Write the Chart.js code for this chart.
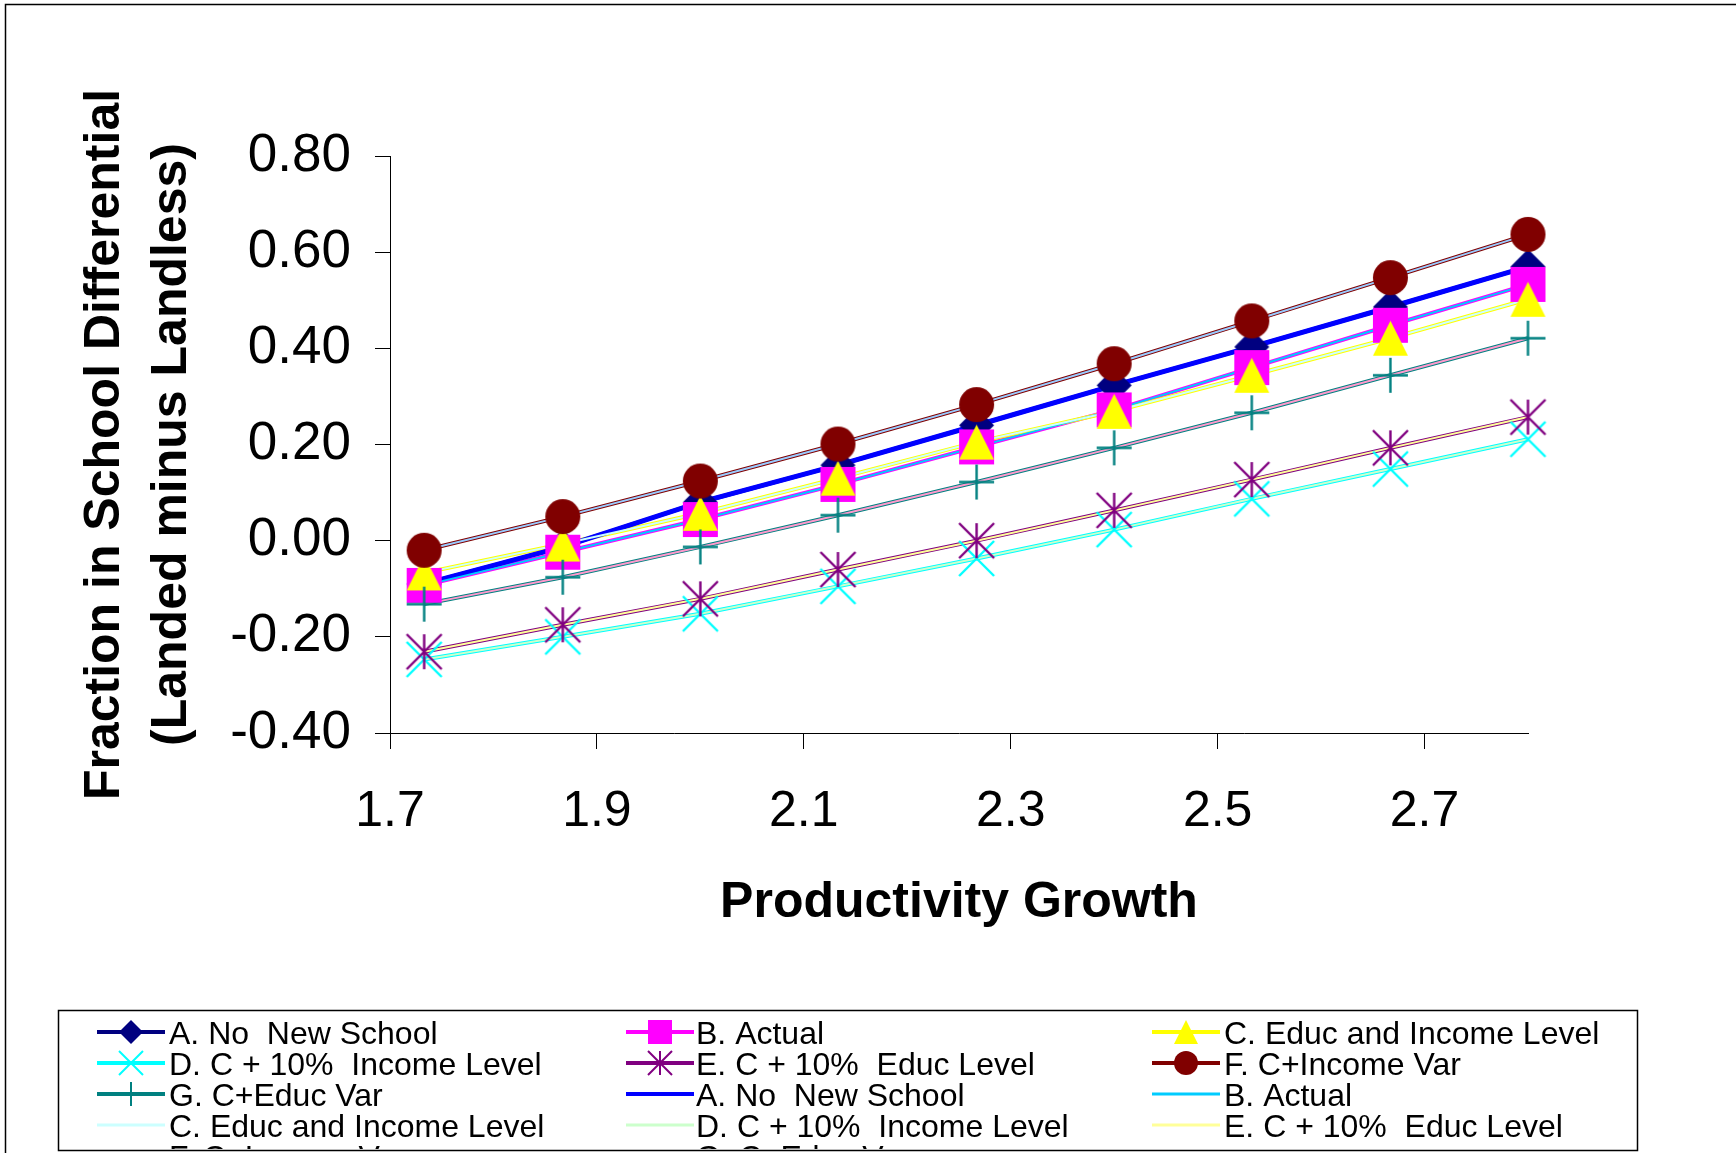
<!DOCTYPE html>
<html>
<head>
<meta charset="utf-8">
<script src="https://cdn.jsdelivr.net/npm/chart.js@4.4.1/dist/chart.umd.min.js"></script>
<style>
  html, body { margin: 0; padding: 0; background: #fff; }
  #wrap { width: 1736px; height: 1153px; position: relative; }
</style>
</head>
<body>
<div id="wrap"><canvas id="c" width="1736" height="1153"></canvas></div>
<script>
// Productivity growth values at which each scenario was simulated
const productivityGrowth = [1.733, 1.867, 2.0, 2.133, 2.267, 2.4, 2.533, 2.667, 2.8];

// Fraction in school differential (landed minus landless), one array per scenario
const noNewSchool   = [-0.090, -0.013, 0.080, 0.157, 0.240, 0.323, 0.403, 0.486, 0.570];
const actual        = [-0.093, -0.024, 0.044, 0.117, 0.195, 0.272, 0.360, 0.448, 0.533];
const educIncome    = [-0.067, -0.007, 0.057, 0.130, 0.205, 0.269, 0.344, 0.421, 0.502];
const incomePlus10  = [-0.247, -0.200, -0.152, -0.095, -0.037, 0.023, 0.087, 0.149, 0.211];
const educPlus10    = [-0.231, -0.175, -0.121, -0.060, 0.000, 0.063, 0.127, 0.193, 0.257];
const incomeVar     = [-0.020, 0.050, 0.124, 0.201, 0.283, 0.368, 0.457, 0.547, 0.637];
const educVar       = [-0.132, -0.076, -0.013, 0.053, 0.122, 0.193, 0.266, 0.344, 0.421];

const seriesNames = [
  'A. No  New School', 'B. Actual', 'C. Educ and Income Level',
  'D. C + 10%  Income Level', 'E. C + 10%  Educ Level', 'F. C+Income Var', 'G. C+Educ Var'
];

// Axis tick values
const xTickValues = [1.7, 1.9, 2.1, 2.3, 2.5, 2.7];
const yTickValues = [-0.4, -0.2, 0.0, 0.2, 0.4, 0.6, 0.8];

const seriesValues = [noNewSchool, actual, educIncome, incomePlus10, educPlus10, incomeVar, educVar];
const markerColors = ['#000080', '#FF00FF', '#FFFF00', '#00FFFF', '#800080', '#800000', '#008080'];
const markerKinds  = ['diamond', 'square', 'triangle', 'x', 'star', 'circle', 'plus'];
const lineColors   = ['#0000FF', '#00CCFF', '#CCFFFF', '#CCFFCC', '#FFFF99', '#99CCFF', '#FF99CC'];

const FONT = '"Liberation Sans", Arial, Helvetica, sans-serif';

// Marker glyphs rendered to small canvases (used as point styles)
function markerCanvas(kind, size, color, lw) {
  const pad = 3;
  const c = document.createElement('canvas');
  c.width = c.height = Math.round(size + 2 * pad);
  const g = c.getContext('2d');
  const m = c.width / 2, h = size / 2;
  g.fillStyle = color;
  g.strokeStyle = color;
  g.lineWidth = lw;
  g.beginPath();
  switch (kind) {
    case 'diamond':
      g.moveTo(m, m - h); g.lineTo(m + h, m); g.lineTo(m, m + h); g.lineTo(m - h, m);
      g.closePath(); g.fill(); break;
    case 'square':
      g.fillRect(m - h, m - h, size, size); break;
    case 'triangle':
      g.moveTo(m, m - h); g.lineTo(m + h, m + h); g.lineTo(m - h, m + h);
      g.closePath(); g.fill(); break;
    case 'x':
      g.moveTo(m - h, m - h); g.lineTo(m + h, m + h);
      g.moveTo(m + h, m - h); g.lineTo(m - h, m + h); g.stroke(); break;
    case 'star':
      g.moveTo(m, m - h); g.lineTo(m, m + h);
      g.moveTo(m - h, m - h); g.lineTo(m + h, m + h);
      g.moveTo(m + h, m - h); g.lineTo(m - h, m + h); g.stroke(); break;
    case 'circle':
      g.arc(m, m, h, 0, Math.PI * 2); g.fill(); break;
    case 'plus':
      g.moveTo(m, m - h); g.lineTo(m, m + h);
      g.moveTo(m - h, m); g.lineTo(m + h, m); g.stroke(); break;
  }
  return c;
}

const plotMarkers = markerKinds.map((k, i) => markerCanvas(k, 35, markerColors[i], 2.4));
const keyMarkers  = markerKinds.map((k, i) => markerCanvas(k, 24, markerColors[i], 2));

const toPoints = vals => productivityGrowth.map((x, i) => ({ x: x, y: vals[i] }));

const datasets = [];
// scenario lines (drawn first, underneath)
seriesValues.forEach((vals, i) => {
  datasets.push({
    label: seriesNames[i], data: toPoints(vals),
    borderColor: markerColors[i], backgroundColor: markerColors[i],
    borderWidth: 4, pointRadius: 0, tension: 0, clip: false, order: 100 - i
  });
});
// companion line series drawn over the scenario lines
seriesValues.forEach((vals, i) => {
  datasets.push({
    label: seriesNames[i], data: toPoints(vals),
    borderColor: lineColors[i], backgroundColor: lineColors[i],
    borderWidth: i === 0 ? 5 : 2, pointRadius: 0, tension: 0, clip: false, order: 60 - i
  });
});
// markers on top of every line
seriesValues.forEach((vals, i) => {
  datasets.push({
    label: seriesNames[i], data: toPoints(vals), showLine: false,
    pointStyle: plotMarkers[i], pointRadius: 17.5, clip: false, order: 30 - i
  });
});

// Outer frame and the boxed key beneath the plot
const frameAndKey = {
  id: 'frameAndKey',
  beforeDraw(chart) {
    const ctx = chart.ctx;
    ctx.save();
    ctx.fillStyle = '#fff';
    ctx.fillRect(0, 0, chart.width, chart.height);
    ctx.restore();
  },
  afterDraw(chart) {
    const ctx = chart.ctx;
    ctx.save();
    ctx.strokeStyle = '#000';
    ctx.lineWidth = 1.5;
    ctx.beginPath();
    ctx.moveTo(5.5, chart.height);
    ctx.lineTo(5.5, 4.5);
    ctx.lineTo(chart.width, 4.5);
    ctx.stroke();

    const box = { x: 58, y: 1010, w: 1579, h: 140 };
    ctx.fillStyle = '#fff';
    ctx.fillRect(box.x, box.y, box.w, box.h);

    ctx.save();
    ctx.beginPath();
    ctx.rect(box.x + 1, box.y + 1, box.w - 2, box.h - 2);
    ctx.clip();

    const entries = [];
    for (let i = 0; i < 7; i++) entries.push({ name: seriesNames[i], color: markerColors[i], width: 4, marker: keyMarkers[i] });
    for (let i = 0; i < 7; i++) entries.push({ name: seriesNames[i], color: lineColors[i], width: i === 0 ? 4 : 3, marker: null });

    const colLine = [97, 626, 1152];
    const colText = [169, 696, 1224];
    const rowY0 = 1032, rowStep = 31;
    ctx.font = '32px ' + FONT;
    ctx.textBaseline = 'alphabetic';
    ctx.textAlign = 'left';
    entries.forEach((e, k) => {
      const col = k % 3, row = Math.floor(k / 3);
      const cy = rowY0 + row * rowStep;
      const lx = colLine[col];
      ctx.strokeStyle = e.color;
      ctx.lineWidth = e.width;
      ctx.beginPath();
      ctx.moveTo(lx, cy);
      ctx.lineTo(lx + 68, cy);
      ctx.stroke();
      if (e.marker) {
        ctx.drawImage(e.marker, lx + 34 - e.marker.width / 2, cy - e.marker.height / 2);
      }
      ctx.fillStyle = '#000';
      ctx.fillText(e.name, colText[col], cy + 11.5);
    });
    ctx.restore();

    ctx.strokeStyle = '#000';
    ctx.lineWidth = 1.5;
    ctx.strokeRect(box.x + 0.5, box.y + 0.5, box.w, box.h);
    ctx.restore();
  }
};

new Chart(document.getElementById('c'), {
  type: 'line',
  data: { datasets: datasets },
  plugins: [frameAndKey],
  options: {
    responsive: false,
    animation: false,
    devicePixelRatio: 1,
    events: [],
    layout: { padding: { top: 156, right: 208, bottom: 220, left: 0 } },
    plugins: { legend: { display: false }, tooltip: { enabled: false } },
    scales: {
      x: {
        type: 'linear', min: 1.7, max: 2.8,
        afterBuildTicks: s => { s.ticks = xTickValues.map(v => ({ value: v })); },
        afterFit: s => { s.height = 200; },
        grid: { drawOnChartArea: false, drawTicks: true, tickLength: 16, color: '#000', lineWidth: 1 },
        border: { display: true, color: '#000', width: 1 },
        ticks: {
          color: '#000', font: { family: FONT, size: 50 }, padding: 33,
          maxRotation: 0, autoSkip: false, callback: v => Number(v).toFixed(1)
        },
        title: {
          display: true, text: 'Productivity Growth', color: '#000',
          font: { family: FONT, size: 50, weight: 'bold', lineHeight: 1.2 },
          padding: { top: 0, bottom: 0 }
        }
      },
      y: {
        type: 'linear', min: -0.4, max: 0.8,
        afterBuildTicks: s => { s.ticks = yTickValues.map(v => ({ value: v })); },
        afterFit: s => { s.width = 390; },
        grid: { drawOnChartArea: false, drawTicks: true, tickLength: 15, color: '#000', lineWidth: 1 },
        border: { display: true, color: '#000', width: 1 },
        ticks: {
          color: '#000', font: { family: FONT, size: 53 }, padding: 24,
          autoSkip: false, callback: v => Number(v).toFixed(2)
        },
        title: {
          display: true, text: ['Fraction in School Differential', '(Landed minus Landless)'], color: '#000',
          font: { family: FONT, size: 50, weight: 'bold', lineHeight: 1.34 },
          padding: { top: 72, bottom: 0 }
        }
      }
    }
  }
});
</script>
</body>
</html>
